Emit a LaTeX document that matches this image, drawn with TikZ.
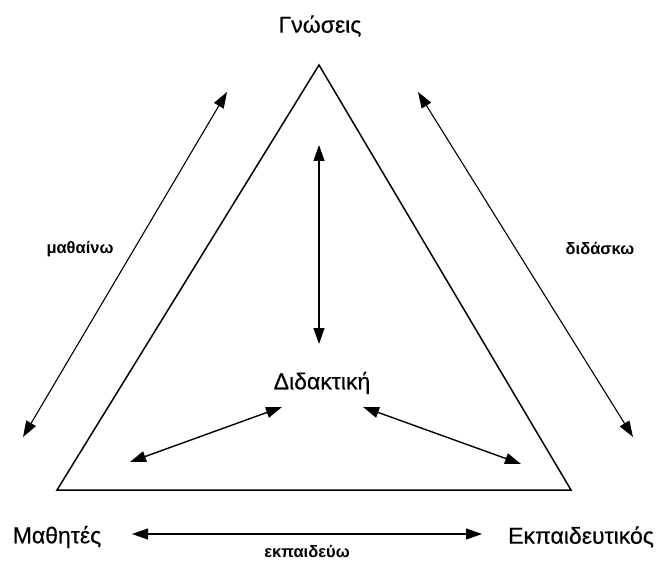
\documentclass[tikz,border=0pt]{standalone}
\usepackage{fontspec}
\setmainfont{Liberation Sans}
\newfontfamily\labelfont[FakeBold=0.4]{Liberation Sans}
\usetikzlibrary{arrows.meta}
\begin{document}
\begin{tikzpicture}[x=1pt,y=-1pt,
  big/.style={font=\labelfont\fontsize{23}{27}\selectfont, inner sep=0pt},
  small/.style={font=\fontsize{16.5}{20}\selectfont\bfseries, inner sep=0pt},
  tip/.tip={Triangle[length=16pt,width=11pt]},
  rel/.style={line width=1.1pt, tip-tip},
  inrel/.style={line width=1.4pt, tip-tip},
  edge/.style={line width=1.5pt, line join=miter}]
\useasboundingbox (0,0) rectangle (658,561);
% triangle corners
\coordinate (top) at (319,65);
\coordinate (bl) at (57,490);
\coordinate (br) at (571,490);
\draw[edge] (top) -- (bl) -- (br) -- cycle;
% labels
\node[big] (know) at (320,26) {Γνώσεις};
\node[big] (stud) at (57,537) {Μαθητές};
\node[big] (teach) at (581,537) {Εκπαιδευτικός};
\node[big] (did) at (322,383) {Διδακτική};
\node[small] (learn) at (80,249) {μαθαίνω};
\node[small] (tch) at (600,249) {διδάσκω};
\node[small] (edu) at (307,552) {εκπαιδεύω};
% outer relations
\coordinate (l1) at (227,92);
\coordinate (l2) at (23,437);
\draw[rel] (l1) -- (l2);
\coordinate (r1) at (418,92);
\coordinate (r2) at (633,437);
\draw[rel] (r1) -- (r2);
\coordinate (b1) at (132,534);
\coordinate (b2) at (482,534);
\draw[rel] (b1) -- (b2);
% inner relations
\coordinate (v1) at (319,145);
\coordinate (v2) at (319,344);
\draw[inrel] (v1) -- (v2);
\coordinate (il1) at (130,462);
\coordinate (il2) at (282,407);
\draw[inrel] (il1) -- (il2);
\coordinate (ir1) at (363,407);
\coordinate (ir2) at (521,464);
\draw[inrel] (ir1) -- (ir2);
\end{tikzpicture}
\end{document}
